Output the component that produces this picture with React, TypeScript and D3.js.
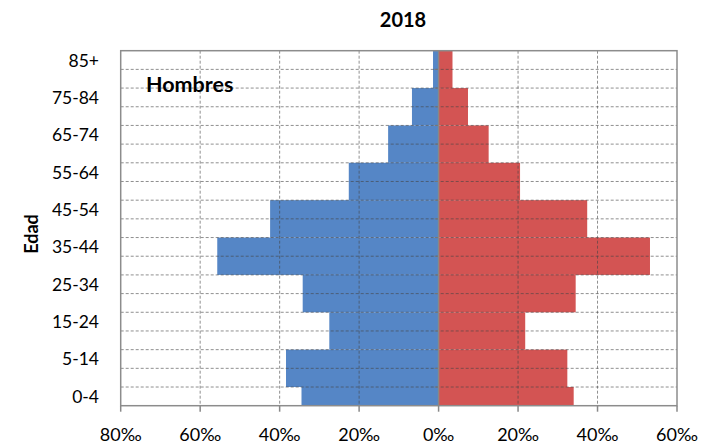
import React from "react";
import * as d3 from "d3";

const ageGroups = ["0-4", "5-14", "15-24", "25-34", "35-44", "45-54", "55-64", "65-74", "75-84", "85+"];
const groupStart = [0, 5, 15, 25, 35, 45, 55, 65, 75, 85];
const groupEnd = [5, 15, 25, 35, 45, 55, 65, 75, 85, 95];
const labelPos = [2.5, 12.5, 22.5, 32.5, 42.5, 52.5, 62.5, 72.5, 82.5, 92.5];
const hombres = [34.5, 38.4, 27.5, 34.2, 55.7, 42.4, 22.6, 12.7, 6.7, 1.4];
const mujeres = [34.0, 32.4, 21.8, 34.5, 53.2, 37.4, 20.5, 12.6, 7.4, 3.5];
const xTicks = [-80, -60, -40, -20, 0, 20, 40, 60];
const gridAges = d3.range(5, 95, 5);

const W = 704, H = 444;
const L = 120.7, R = 677, T = 50.7, B = 405.7;
const FONT = "Lato, 'Open Sans', sans-serif";

export default function App() {
  const x = d3.scaleLinear().domain([-80, 60]).range([L, R]);
  const y = d3.scaleLinear().domain([0, 95]).range([B, T]);
  const x0 = x(0);
  return (
    <svg width={W} height={H} style={{ position: "absolute", left: 0, top: 0, background: "#fff" }}>
      {ageGroups.map((g, i) => (
        <g key={g}>
          <rect x={x(-hombres[i])} width={x0 - x(-hombres[i])} y={y(groupEnd[i])} height={y(groupStart[i]) - y(groupEnd[i])} fill="#5586C6" />
          <rect x={x0} width={x(mujeres[i]) - x0} y={y(groupEnd[i])} height={y(groupStart[i]) - y(groupEnd[i])} fill="#D35453" />
        </g>
      ))}
      {gridAges.map((a) => (
        <line key={"h" + a} x1={L} x2={R} y1={y(a)} y2={y(a)} stroke="#444" strokeOpacity={0.6} strokeWidth={1} strokeDasharray="3,2" />
      ))}
      {xTicks.filter((t) => t !== 0 && t !== -80 && t !== 60).map((t) => (
        <line key={"v" + t} x1={x(t)} x2={x(t)} y1={T} y2={B} stroke="#444" strokeOpacity={0.6} strokeWidth={1} strokeDasharray="3,2" />
      ))}
      {gridAges.map((a) => (
        <line key={"yt" + a} x1={x0 - 4} x2={x0} y1={y(a)} y2={y(a)} stroke="#777" strokeWidth={1} />
      ))}
      <rect x={L} y={T} width={R - L} height={B - T} fill="none" stroke="#8c8c8c" strokeWidth={1.5} />
      <line x1={x0} x2={x0} y1={T} y2={B} stroke="#888" strokeWidth={1.5} />
      {xTicks.map((t) => (
        <g key={"xt" + t}>
          <line x1={x(t)} x2={x(t)} y1={B} y2={B + 6} stroke="#888" strokeWidth={1.5} />
          <text x={x(t)} y={433.5} textAnchor="middle" dominantBaseline="central" fontFamily={FONT} fontSize={18} fill="#000">
            {Math.abs(t) + "‰"}
          </text>
        </g>
      ))}
      {ageGroups.map((g, i) => (
        <text key={"yl" + g} x={99} y={y(labelPos[i])} textAnchor="end" dominantBaseline="central" fontFamily={FONT} fontSize={17.5} fill="#000">
          {g}
        </text>
      ))}
      <text x={403} y={19} textAnchor="middle" dominantBaseline="central" fontFamily={FONT} fontSize={20} fontWeight="bold">2018</text>
      <text x={146} y={84} dominantBaseline="central" fontFamily={FONT} fontSize={21.5} fontWeight="bold">Hombres</text>
      <text transform={`translate(31,234) rotate(-90)`} textAnchor="middle" dominantBaseline="central" fontFamily={FONT} fontSize={18} fontWeight="bold">Edad</text>
    </svg>
  );
}
